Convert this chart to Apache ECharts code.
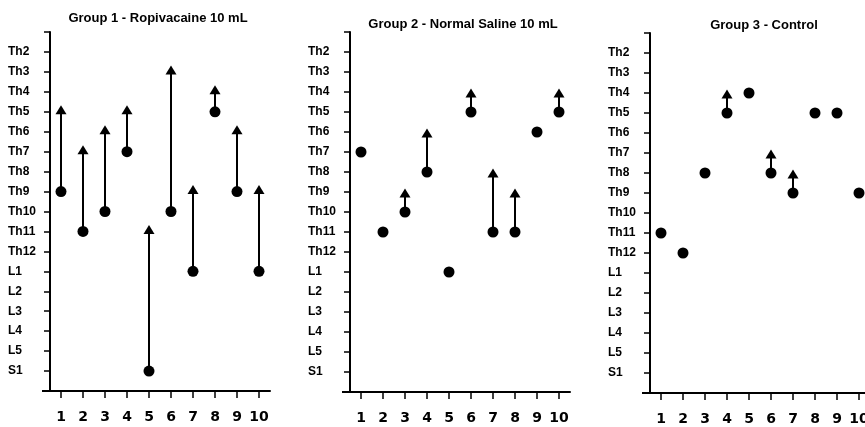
<!DOCTYPE html>
<html><head><meta charset="utf-8">
<script src="https://cdn.jsdelivr.net/npm/echarts@6/dist/echarts.min.js"></script>
<style>html,body{margin:0;padding:0;background:#fff;overflow:hidden}#c{width:885px;height:427px}</style>
</head><body><div id="c"></div>
<script>
const subjects = ['1','2','3','4','5','6','7','8','9','10'];
const levels = ['Th2','Th3','Th4','Th5','Th6','Th7','Th8','Th9','Th10','Th11','Th12','L1','L2','L3','L4','L5','S1'];
const titles = ['Group 1 - Ropivacaine 10 mL','Group 2 - Normal Saline 10 mL','Group 3 - Control'];
// level reached at the dot, and the level the arrow points to (null = no arrow)
const g1Start = ['Th9','Th11','Th10','Th7','S1','Th10','L1','Th5','Th9','L1'];
const g1End   = ['Th5','Th7','Th6','Th5','Th11','Th3','Th9','Th4','Th6','Th9'];
const g2Start = ['Th7','Th11','Th10','Th8','L1','Th5','Th11','Th11','Th6','Th5'];
const g2End   = [null,null,'Th9','Th6',null,'Th4','Th8','Th9',null,'Th4'];
const g3Start = ['Th11','Th12','Th8','Th5','Th4','Th8','Th9','Th5','Th5','Th9'];
const g3End   = [null,null,null,'Th4',null,'Th7','Th8',null,null,null];

const groups = [[g1Start,g1End],[g2Start,g2End],[g3Start,g3End]];
const yAxisData = [''].concat(levels, ['']);
const yi = n => yAxisData.indexOf(n);

const grids = [
  {left:50, top:32, width:220, height:359},
  {left:350, top:32, width:220, height:360},
  {left:650, top:33, width:220, height:360}
];
const titlePos = [[158,12],[463,18],[764,19]];
const triOffset = [-2, 1, 1];

const option = {
  animation:false,
  backgroundColor:'#fff',
  title: titles.map((t,i)=>({text:t, left:titlePos[i][0], top:titlePos[i][1], textAlign:'center', padding:0,
    textStyle:{fontFamily:'Liberation Sans, Arial, sans-serif', fontWeight:'bold', fontSize:13, color:'#000'}})),
  grid: grids.map(g=>Object.assign({containLabel:false}, g)),
  xAxis: grids.map((g,i)=>({type:'category', gridIndex:i, data:subjects, boundaryGap:true,
    axisLine:{show:true, lineStyle:{color:'#000', width:2}},
    axisTick:{show:true, alignWithLabel:true, length:7, lineStyle:{color:'#000', width:1.5}},
    axisLabel:{color:'#000', fontFamily:'DejaVu Sans, sans-serif', fontWeight:'bold', fontSize:14, margin:19, interval:0},
    splitLine:{show:false}})),
  yAxis: grids.map((g,i)=>({type:'category', gridIndex:i, data:yAxisData, boundaryGap:false, inverse:true,
    axisLine:{show:true, lineStyle:{color:'#000', width:2}},
    axisTick:{show:true, length:6, interval:0, lineStyle:{color:'#000', width:1.5}},
    axisLabel:{color:'#000', fontFamily:'Liberation Sans, Arial, sans-serif', fontWeight:'bold', fontSize:12, margin:42, align:'left', interval:0},
    splitLine:{show:false}})),
  graphic: [
    {type:'line', shape:{x1:42,y1:391,x2:50,y2:391}, style:{stroke:'#000', lineWidth:2}},
    {type:'line', shape:{x1:342,y1:392,x2:350,y2:392}, style:{stroke:'#000', lineWidth:2}},
    {type:'line', shape:{x1:642,y1:393,x2:650,y2:393}, style:{stroke:'#000', lineWidth:2}}
  ],
  series: []
};

groups.forEach(([st,en],gi)=>{
  const segs = [], tris = [], dots = [];
  st.forEach((s,k)=>{
    dots.push([k, yi(s)]);
    if (en[k]) { segs.push([k, yi(s), yi(en[k])]); tris.push([k, yi(en[k])]); }
  });
  option.series.push({type:'custom', xAxisIndex:gi, yAxisIndex:gi, data:segs, silent:true,
    renderItem:(params, api)=>{
      const a = api.coord([api.value(0), api.value(1)]);
      const b = api.coord([api.value(0), api.value(2)]);
      return {type:'line', shape:{x1:a[0], y1:a[1], x2:b[0], y2:b[1]}, style:{stroke:'#000', lineWidth:2}};
    }});
  option.series.push({type:'scatter', xAxisIndex:gi, yAxisIndex:gi, data:tris, symbol:'triangle',
    symbolSize:[11,9], symbolOffset:[0,triOffset[gi]], itemStyle:{color:'#000', opacity:1}, silent:true});
  option.series.push({type:'scatter', xAxisIndex:gi, yAxisIndex:gi, data:dots, symbol:'circle',
    symbolSize:11, itemStyle:{color:'#000', opacity:1}, silent:true});
});

const chart = echarts.init(document.getElementById('c'));
chart.setOption(option);
</script></body></html>
